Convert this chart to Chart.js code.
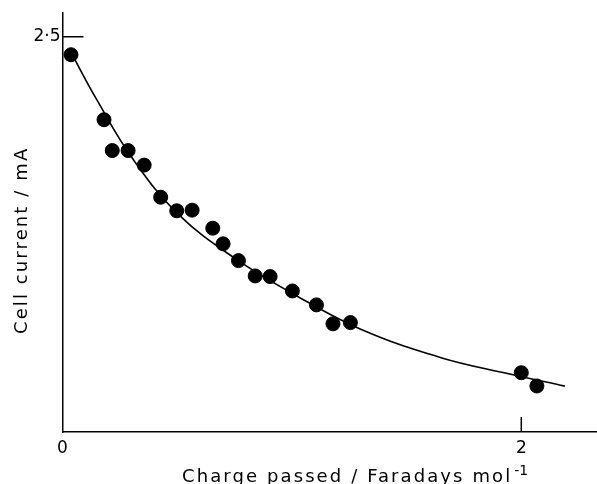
<!DOCTYPE html>
<html>
<head>
<meta charset="utf-8">
<script src="https://cdn.jsdelivr.net/npm/chart.js@4/dist/chart.umd.min.js"></script>
<style>
  html, body { margin: 0; padding: 0; background: #fff; }
  #wrap { width: 597px; height: 484px; position: relative; }
</style>
</head>
<body>
<div id="wrap"><canvas id="chart"></canvas></div>
<script>
// measured points (charge passed, F/mol vs cell current, mA)
const chargeDots  = [0.037, 0.181, 0.217, 0.286, 0.356, 0.428, 0.498, 0.565, 0.655, 0.700,
                     0.767, 0.840, 0.905, 1.002, 1.107, 1.179, 1.255, 2.000, 2.068];
const currentDots = [2.386, 1.975, 1.780, 1.780, 1.688, 1.485, 1.399, 1.403, 1.289, 1.190,
                     1.084, 0.987, 0.983, 0.892, 0.804, 0.684, 0.692, 0.375, 0.291];

// fitted curve
const curveCharge  = [0.03, 0.15, 0.31, 0.51, 0.76, 1.01, 1.30, 1.65, 1.94, 2.19];
const curveCurrent = [2.42, 2.10, 1.72, 1.37, 1.09, 0.87, 0.65, 0.47, 0.37, 0.29];

const xTicks      = [0, 2];
const xTickLabels = ['0', '2'];
const yTicks      = [2.5];
const yTickLabels = ['2·5'];

const FONT = '"DejaVu Sans", sans-serif';

// small inward tick marks + the two axis titles
const extras = {
    id: 'extras',
    afterDraw(chart) {
        const { ctx, chartArea: a, scales: { x, y } } = chart;
        ctx.save();
        ctx.strokeStyle = '#000';
        ctx.lineWidth = 1.5;
        ctx.beginPath();
        xTicks.filter(v => v > 0).forEach(v => {
            const px = x.getPixelForValue(v);
            ctx.moveTo(px, a.bottom);
            ctx.lineTo(px, a.bottom - 15);
        });
        yTicks.forEach(v => {
            const py = y.getPixelForValue(v);
            ctx.moveTo(a.left, py);
            ctx.lineTo(a.left + 21, py);
        });
        ctx.stroke();

        ctx.fillStyle = '#000';
        ctx.textBaseline = 'alphabetic';
        ctx.textAlign = 'left';

        // x title with superscript
        ctx.font = '18px ' + FONT;
        ctx.letterSpacing = '2.1px';
        const main = 'Charge passed / Faradays mol';
        ctx.fillText(main, 182, 482);
        const w = ctx.measureText(main).width;
        ctx.font = '14px ' + FONT;
        ctx.letterSpacing = '0px';
        ctx.fillText('-1', 182 + w + 2, 475);

        // y title, rotated
        ctx.font = '18px ' + FONT;
        ctx.letterSpacing = '2.1px';
        ctx.translate(27, 334);
        ctx.rotate(-Math.PI / 2);
        ctx.fillText('Cell current / mA', 0, 0);
        ctx.restore();
    }
};

new Chart(document.getElementById('chart'), {
    type: 'scatter',
    data: {
        datasets: [
            {
                label: 'measured',
                data: chargeDots.map((v, i) => ({ x: v, y: currentDots[i] })),
                backgroundColor: '#000',
                borderColor: '#000',
                pointRadius: 7,
                pointHoverRadius: 7,
                showLine: false,
                clip: false,
            },
            {
                label: 'fit',
                data: curveCharge.map((v, i) => ({ x: v, y: curveCurrent[i] })),
                borderColor: '#000',
                borderWidth: 1.6,
                pointRadius: 0,
                showLine: true,
                fill: false,
                tension: 0.4,
                clip: false,
            }
        ]
    },
    options: {
        responsive: true,
        maintainAspectRatio: false,
        animation: false,
        layout: { autoPadding: false, padding: { top: 13, right: 0, bottom: 0, left: 0 } },
        plugins: { legend: { display: false }, tooltip: { enabled: false } },
        scales: {
            x: {
                type: 'linear',
                min: 0, max: 2.33,
                afterFit: s => { s.height = 52; },
                afterBuildTicks: s => { s.ticks = xTicks.map(v => ({ value: v })); },
                grid: { display: false, drawTicks: false },
                border: { display: true, color: '#000', width: 1.5 },
                ticks: {
                    color: '#000',
                    padding: 6,
                    font: { family: FONT, size: 17 },
                    callback: v => xTickLabels[xTicks.indexOf(v)],
                }
            },
            y: {
                type: 'linear',
                min: 0, max: 2.65,
                afterFit: s => { s.width = 62.5; },
                afterBuildTicks: s => { s.ticks = yTicks.map(v => ({ value: v })); },
                grid: { display: false, drawTicks: false },
                border: { display: true, color: '#000', width: 1.5 },
                ticks: {
                    color: '#000',
                    padding: 2,
                    font: { family: FONT, size: 17 },
                    callback: v => yTickLabels[yTicks.indexOf(v)],
                }
            }
        }
    },
    plugins: [extras]
});
</script>
</body>
</html>
